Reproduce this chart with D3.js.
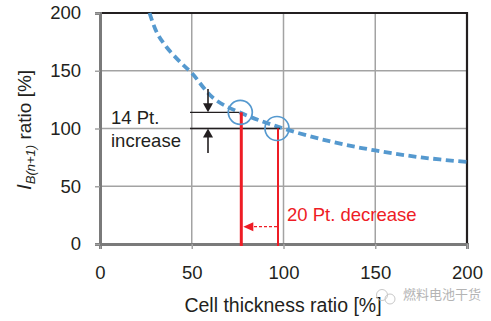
<!DOCTYPE html>
<html>
<head>
<meta charset="utf-8">
<script src="https://cdn.jsdelivr.net/npm/d3@7"></script>
<style>
  body { margin: 0; background: #fff; }
  svg { display: block; font-family: "Liberation Sans", Arial, sans-serif; }
</style>
</head>
<body>
<svg id="chart" width="491" height="321"></svg>
<script>
// ratio curve (cell thickness ratio vs I_B(n+1) ratio)
var curveX = [27, 31, 36, 44, 50, 62, 76, 98, 125, 150, 175, 200];
var curveY = [200, 183, 171, 157, 148, 126, 114, 101, 89, 81, 75, 71];
var xTicks = [0, 50, 100, 150, 200];
var yTicks = [0, 50, 100, 150, 200];
// the two operating points (thinner cell, reference cell)
var pointX = [77, 97];
var pointY = [114, 100];
var arrowY = 15;

var svg = d3.select("#chart");
var x = d3.scaleLinear().domain([0, 200]).range([100, 467]);
var y = d3.scaleLinear().domain([0, 200]).range([244, 13]);

// grid
svg.append("g").selectAll("line.gx")
    .data(xTicks.slice(1, -1)).enter().append("line")
    .attr("x1", function(d) { return x(d); }).attr("x2", function(d) { return x(d); })
    .attr("y1", y(200)).attr("y2", y(0))
    .style("stroke", "#a3a3a3").style("stroke-width", 1.5);
svg.append("g").selectAll("line.gy")
    .data(yTicks.slice(1, -1)).enter().append("line")
    .attr("x1", x(0)).attr("x2", x(200))
    .attr("y1", function(d) { return y(d); }).attr("y2", function(d) { return y(d); })
    .style("stroke", "#a3a3a3").style("stroke-width", 1.5);

// top/right frame
svg.append("path")
    .attr("d", "M" + x(0) + "," + y(200) + "H" + x(200) + "V" + y(0))
    .style("fill", "none").style("stroke", "#231f20").style("stroke-width", 2.2);

// axes
var xAxis = svg.append("g").attr("transform", "translate(0," + y(0) + ")")
    .call(d3.axisBottom(x).tickValues(xTicks).tickSize(5).tickPadding(17));
var yAxis = svg.append("g").attr("transform", "translate(" + x(0) + ",0)")
    .call(d3.axisLeft(y).tickValues(yTicks).tickSize(5).tickPadding(14));
[xAxis, yAxis].forEach(function(a) {
    a.select(".domain").style("stroke", "#7a7a7a").style("stroke-width", 3);
    a.selectAll(".tick line").style("stroke", "#a3a3a3").style("stroke-width", 1.5);
    a.selectAll("text").style("font-size", "18.5px").style("fill", "#231f20")
        .style("font-family", "Liberation Sans, Arial, sans-serif");
});
xAxis.selectAll(".tick text").attr("dy", "0.71em");

// dashed ratio curve
var line = d3.line()
    .x(function(d) { return x(d[0]); })
    .y(function(d) { return y(d[1]); })
    .curve(d3.curveCatmullRom);
svg.append("path")
    .datum(d3.zip(curveX, curveY))
    .attr("d", line)
    .style("fill", "none")
    .style("stroke", "#5599cf")
    .style("stroke-width", 3.8)
    .style("stroke-dasharray", "8,4.5");

// reference lines at both points
svg.append("g").selectAll("line.ref")
    .data(d3.range(2)).enter().append("line")
    .attr("x1", 190)
    .attr("x2", function(i) { return x(pointX[i]) + (i == 1 ? 2 : -2); })
    .attr("y1", function(i) { return y(pointY[i]); })
    .attr("y2", function(i) { return y(pointY[i]); })
    .style("stroke", "#231f20").style("stroke-width", 1.3);

// red vertical lines
svg.append("g").selectAll("line.red")
    .data(d3.range(2)).enter().append("line")
    .attr("x1", function(i) { return x(pointX[i]); })
    .attr("x2", function(i) { return x(pointX[i]); })
    .attr("y1", function(i) { return y(pointY[i]); })
    .attr("y2", y(0) + 2)
    .style("stroke", "#ee1c25")
    .style("stroke-width", function(i) { return i == 0 ? 3 : 2; });

// circles
svg.append("g").selectAll("circle")
    .data(d3.range(2)).enter().append("circle")
    .attr("cx", function(i) { return x(pointX[i]) - 1; })
    .attr("cy", function(i) { return y(pointY[i]); })
    .attr("r", 12)
    .style("fill", "none").style("stroke", "#5599cf").style("stroke-width", 1.7);

// black arrows pointing at the two levels
var ax = 208;
svg.append("line").attr("x1", ax).attr("x2", ax).attr("y1", 89).attr("y2", y(pointY[0]) - 6)
    .style("stroke", "#231f20").style("stroke-width", 1.6);
svg.append("path")
    .attr("d", "M" + (ax - 5) + "," + (y(pointY[0]) - 9) + "L" + (ax + 5) + "," + (y(pointY[0]) - 9) + "L" + ax + "," + y(pointY[0]) + "Z")
    .style("fill", "#231f20");
svg.append("line").attr("x1", ax).attr("x2", ax).attr("y1", 153).attr("y2", y(pointY[1]) + 6)
    .style("stroke", "#231f20").style("stroke-width", 1.6);
svg.append("path")
    .attr("d", "M" + (ax - 5) + "," + (y(pointY[1]) + 9) + "L" + (ax + 5) + "," + (y(pointY[1]) + 9) + "L" + ax + "," + y(pointY[1]) + "Z")
    .style("fill", "#231f20");

// red dashed arrow
svg.append("line")
    .attr("x1", x(pointX[1]) - 1).attr("x2", x(pointX[0]) + 10)
    .attr("y1", y(arrowY)).attr("y2", y(arrowY))
    .style("stroke", "#ee1c25").style("stroke-width", 1.3).style("stroke-dasharray", "3,2");
svg.append("path")
    .attr("d", "M" + (x(pointX[0]) + 2) + "," + y(arrowY) + "L" + (x(pointX[0]) + 12) + "," + (y(arrowY) - 4.5) + "L" + (x(pointX[0]) + 12) + "," + (y(arrowY) + 4.5) + "Z")
    .style("fill", "#ee1c25");

// annotation text
var t = svg.append("text").style("font-size", "18.5px").style("fill", "#231f20");
t.append("tspan").attr("x", 111).attr("y", 124).text("14 Pt.");
t.append("tspan").attr("x", 111).attr("y", 147).text("increase");
svg.append("text").attr("x", 287).attr("y", 221)
    .style("font-size", "18.5px").style("fill", "#ee1c25")
    .text("20 Pt. decrease");

// axis titles
svg.append("text").attr("x", 283).attr("y", 312).attr("text-anchor", "middle")
    .style("font-size", "19.5px").style("fill", "#231f20")
    .text("Cell thickness ratio [%]");
var yl = svg.append("text")
    .attr("transform", "translate(31,130) rotate(-90)")
    .attr("text-anchor", "middle")
    .style("font-size", "19px").style("fill", "#231f20");
yl.append("tspan").style("font-style", "italic").style("font-size", "21px").text("I");
yl.append("tspan").style("font-style", "italic").style("font-size", "13px")
    .attr("dy", 4).text("B(n+1)");
yl.append("tspan").attr("dy", -4).text(" ratio [%]");

// watermark
var wm = svg.append("g").style("fill", "none").style("stroke", "#c8c8c8").style("stroke-width", 1);
wm.append("circle").attr("cx", 382).attr("cy", 295).attr("r", 5.5);
wm.append("circle").attr("cx", 390).attr("cy", 299).attr("r", 5);
svg.append("text").attr("x", 403).attr("y", 299)
    .style("font-size", "13px").style("fill", "#b4b4b4")
    .style("font-family", "Noto Sans CJK SC, sans-serif")
    .text("燃料电池干货");
</script>
</body>
</html>
